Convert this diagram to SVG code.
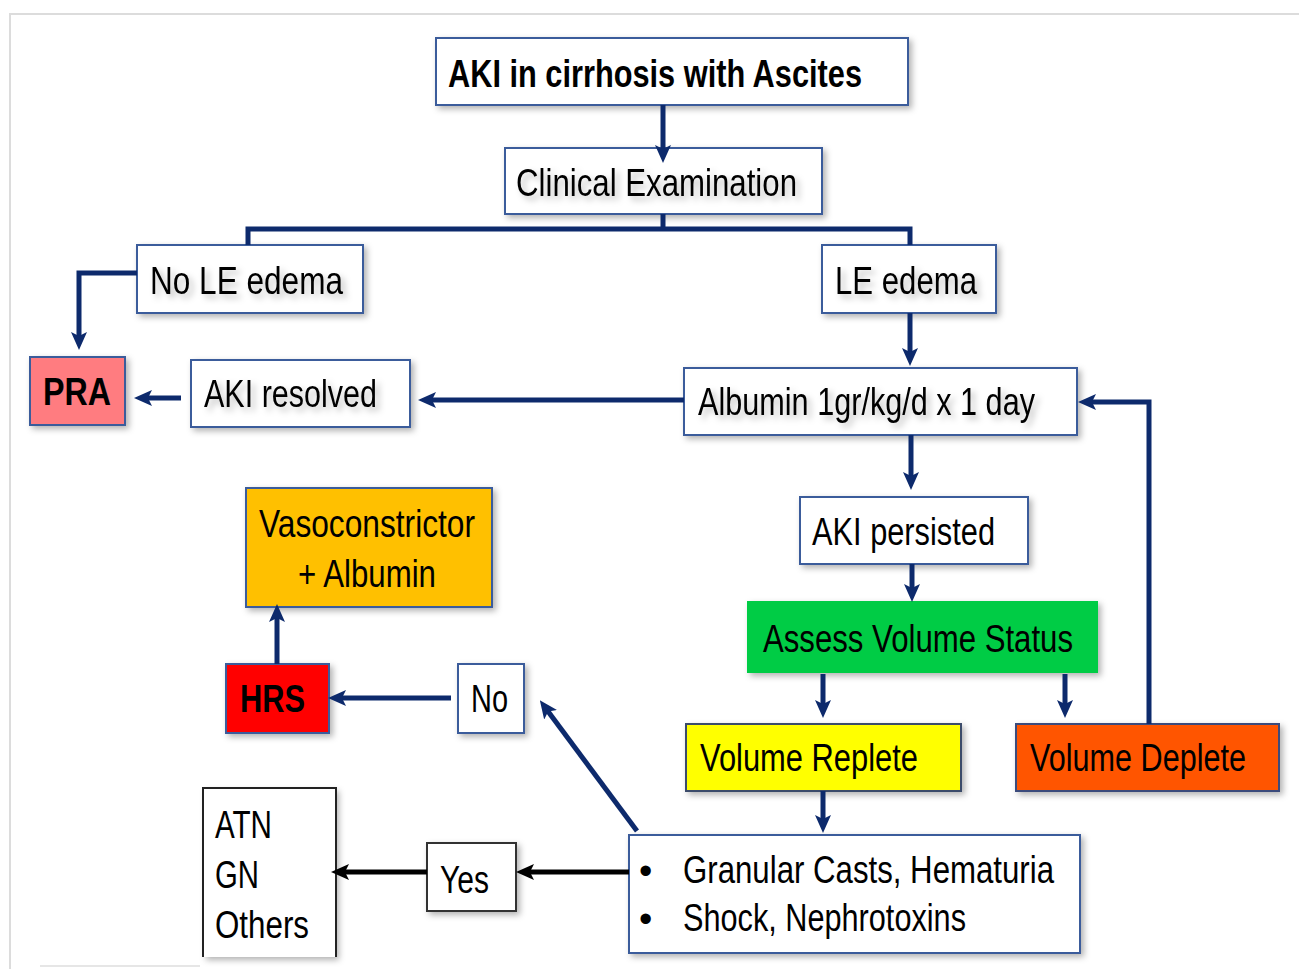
<svg xmlns="http://www.w3.org/2000/svg" width="1299" height="969" viewBox="0 0 1299 969">
<defs>
  <style>
    .box{fill:#ffffff;stroke:#3b5b9b;stroke-width:2;filter:url(#sh)}
    .t{font-family:"Liberation Sans",Arial,sans-serif;font-size:38px;fill:#000}
    .b{font-weight:bold}
    .ts{filter:url(#tsh)}
    .c{fill:none;stroke:#0d2a6c;stroke-width:5}
    .k{fill:none;stroke:#000;stroke-width:5}
  </style>
  <filter id="sh" x="-10%" y="-10%" width="130%" height="140%">
    <feDropShadow dx="3" dy="3" stdDeviation="3" flood-color="#000" flood-opacity="0.3"/>
  </filter>
  <filter id="tsh" x="-10%" y="-20%" width="130%" height="150%">
    <feDropShadow dx="4" dy="4" stdDeviation="3" flood-color="#000" flood-opacity="0.25"/>
  </filter>
  <marker id="ah" viewBox="0 0 18 16" refX="6" refY="8" markerWidth="18" markerHeight="16" markerUnits="userSpaceOnUse" orient="auto">
    <path d="M0,0 L18,8 L0,16 L4,8 z" fill="#0d2a6c"/>
  </marker>
  <marker id="ahk" viewBox="0 0 18 16" refX="6" refY="8" markerWidth="18" markerHeight="16" markerUnits="userSpaceOnUse" orient="auto">
    <path d="M0,0 L18,8 L0,16 L4,8 z" fill="#000"/>
  </marker>
</defs>

<rect x="0" y="0" width="1299" height="969" fill="#ffffff"/>
<g id="frame" fill="none" stroke="#dcdcdc" stroke-width="2">
  <path d="M10,969 V14 H1299"/>
  <path d="M40,966 H200" stroke="#e6e6e6"/>
</g>

<g id="n-title">
  <rect class="box" x="436" y="38" width="472" height="67"/>
  <text class="t b" x="448" y="87" font-size="37" textLength="414" lengthAdjust="spacingAndGlyphs">AKI in cirrhosis with Ascites</text>
</g>
<g id="n-clinical">
  <rect class="box" x="505" y="148" width="317" height="66"/>
  <text class="t ts" x="516" y="196" textLength="281" lengthAdjust="spacingAndGlyphs">Clinical Examination</text>
</g>
<g id="n-nole">
  <rect class="box" x="137" y="245" width="226" height="68"/>
  <text class="t ts" x="150" y="294" textLength="193" lengthAdjust="spacingAndGlyphs">No LE edema</text>
</g>
<g id="n-le">
  <rect class="box" x="822" y="245" width="174" height="68"/>
  <text class="t ts" x="835" y="294" textLength="142" lengthAdjust="spacingAndGlyphs">LE edema</text>
</g>
<g id="n-pra">
  <rect class="box" x="30" y="357" width="95" height="68" style="fill:#ff7c80"/>
  <text class="t b" x="43" y="405" font-size="36" textLength="68" lengthAdjust="spacingAndGlyphs">PRA</text>
</g>
<g id="n-resolved">
  <rect class="box" x="191" y="360" width="219" height="67"/>
  <text class="t ts" x="204" y="407" textLength="173" lengthAdjust="spacingAndGlyphs">AKI resolved</text>
</g>
<g id="n-albumin">
  <rect class="box" x="684" y="368" width="393" height="67"/>
  <text class="t ts" x="698" y="415" textLength="337" lengthAdjust="spacingAndGlyphs">Albumin 1gr/kg/d x 1 day</text>
</g>
<g id="n-persisted">
  <rect class="box" x="800" y="497" width="228" height="67"/>
  <text class="t" x="812" y="545" textLength="183" lengthAdjust="spacingAndGlyphs">AKI persisted</text>
</g>
<g id="n-assess">
  <rect class="box" x="748" y="602" width="349" height="70" style="fill:#00cc44;stroke:#00cc44"/>
  <text class="t" x="763" y="652" font-size="36" textLength="310" lengthAdjust="spacingAndGlyphs">Assess Volume Status</text>
</g>
<g id="n-replete">
  <rect class="box" x="686" y="724" width="275" height="67" style="fill:#ffff00;stroke:#3b4b6b"/>
  <text class="t" x="700" y="771" textLength="218" lengthAdjust="spacingAndGlyphs">Volume Replete</text>
</g>
<g id="n-deplete">
  <rect class="box" x="1016" y="724" width="263" height="67" style="fill:#ff5500;stroke:#3b4b7b"/>
  <text class="t" x="1030" y="771" textLength="216" lengthAdjust="spacingAndGlyphs">Volume Deplete</text>
</g>
<g id="n-signs">
  <rect class="box" x="629" y="835" width="451" height="118"/>
  <text class="t" x="639" y="884" font-size="32">•</text>
  <text class="t" x="639" y="932" font-size="32">•</text>
  <text class="t" x="683" y="883" textLength="371" lengthAdjust="spacingAndGlyphs">Granular Casts, Hematuria</text>
  <text class="t" x="683" y="931" textLength="283" lengthAdjust="spacingAndGlyphs">Shock, Nephrotoxins</text>
</g>
<g id="n-vaso">
  <rect class="box" x="246" y="488" width="246" height="119" style="fill:#ffc000"/>
  <text class="t" x="259" y="537" font-size="39" textLength="216" lengthAdjust="spacingAndGlyphs">Vasoconstrictor</text>
  <text class="t" x="298" y="587" font-size="39" textLength="138" lengthAdjust="spacingAndGlyphs">+ Albumin</text>
</g>
<g id="n-hrs">
  <rect class="box" x="226" y="664" width="103" height="69" style="fill:#ff0000"/>
  <text class="t b" x="240" y="712" font-size="39" textLength="65" lengthAdjust="spacingAndGlyphs">HRS</text>
</g>
<g id="n-no">
  <rect class="box" x="458" y="664" width="66" height="69"/>
  <text class="t" x="471" y="712" textLength="37" lengthAdjust="spacingAndGlyphs">No</text>
</g>
<g id="n-atn">
  <rect x="203" y="788" width="133" height="169" fill="#fff" filter="url(#sh)"/>
  <path d="M203,957 V788 H336 V957" fill="none" stroke="#222" stroke-width="2"/>
  <text class="t" x="215" y="838" textLength="57" lengthAdjust="spacingAndGlyphs">ATN</text>
  <text class="t" x="215" y="888" textLength="44" lengthAdjust="spacingAndGlyphs">GN</text>
  <text class="t" x="215" y="938" textLength="94" lengthAdjust="spacingAndGlyphs">Others</text>
</g>
<g id="n-yes">
  <rect class="box" x="427" y="843" width="89" height="68" style="stroke:#333"/>
  <text class="t" x="440" y="893" textLength="49" lengthAdjust="spacingAndGlyphs">Yes</text>
</g>

<g id="connectors">
  <path class="c" d="M663,105 V151" marker-end="url(#ah)"/>
  <path class="c" d="M663,214 V229"/>
  <path class="c" d="M248,245 V229 H910 V245"/>
  <path class="c" d="M137,273 H79 V338" marker-end="url(#ah)"/>
  <path class="c" d="M910,313 V354" marker-end="url(#ah)"/>
  <path class="c" d="M684,400 H430" marker-end="url(#ah)"/>
  <path class="c" d="M181,398 H146" marker-end="url(#ah)"/>
  <path class="c" d="M911,435 V478" marker-end="url(#ah)"/>
  <path class="c" d="M912,564 V590" marker-end="url(#ah)"/>
  <path class="c" d="M823,674 V706" marker-end="url(#ah)"/>
  <path class="c" d="M1065,674 V706" marker-end="url(#ah)"/>
  <path class="c" d="M1149,724 V402 H1090" marker-end="url(#ah)"/>
  <path class="c" d="M823,791 V821" marker-end="url(#ah)"/>
  <path class="c" d="M637,831 L547,710" marker-end="url(#ah)"/>
  <path class="c" d="M451,698 H340" marker-end="url(#ah)"/>
  <path class="c" d="M277,664 V616" marker-end="url(#ah)"/>
  <path class="k" d="M629,872 H528" marker-end="url(#ahk)"/>
  <path class="k" d="M427,872 H343" marker-end="url(#ahk)"/>
</g>
</svg>
